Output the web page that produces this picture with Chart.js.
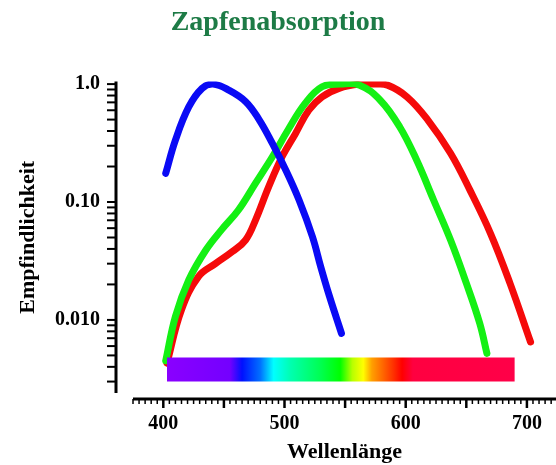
<!DOCTYPE html>
<html>
<head>
<meta charset="utf-8">
<title>Zapfenabsorption</title>
<script src="https://cdn.jsdelivr.net/npm/chart.js@4.4.0/dist/chart.umd.min.js"></script>
<style>
  html, body { margin: 0; padding: 0; background: #fff; }
  .chart-box { width: 556px; height: 465px; }
</style>
</head>
<body>
<div class="chart-box"><canvas id="cones"></canvas></div>
<script>
// Absorption der drei Zapfentypen (nm -> relative Empfindlichkeit)
const blueNm  = [402, 410, 421, 432, 441, 454, 468, 479, 490, 501, 512, 523, 530, 537, 547];
const blueVal = [0.175, 0.335, 0.64, 0.92, 1.0, 0.89, 0.71, 0.50, 0.314, 0.187, 0.104, 0.051, 0.028, 0.016, 0.0077];

const greenNm  = [402, 410, 421, 435, 448, 462, 476, 490, 503, 517, 531, 546, 562, 579, 595, 609, 623, 637, 650, 661, 667];
const greenVal = [0.0045, 0.0107, 0.0218, 0.039, 0.058, 0.0855, 0.144, 0.242, 0.41, 0.686, 0.95, 1.0, 0.98, 0.73, 0.435, 0.227, 0.104, 0.0476, 0.0205, 0.0094, 0.0052];

const redNm  = [403, 415, 429, 443, 457, 468, 476, 487, 498, 509, 520, 531, 545, 562, 574, 585, 601, 618, 637, 653, 670, 686, 703];
const redVal = [0.0043, 0.0122, 0.0233, 0.030, 0.038, 0.0478, 0.070, 0.135, 0.242, 0.38, 0.60, 0.78, 0.92, 1.0, 1.0, 0.98, 0.78, 0.50, 0.259, 0.126, 0.054, 0.0205, 0.0065];

// Farbbalken (Spektrum) unten
const spectrumNm = [403, 690];
const spectrumTop = [0.0048, 0.0048];
const spectrumBase = 0.003;
const spectrumStopsNm = [403, 455, 465, 480, 491, 505, 530, 546, 556, 565, 572, 590, 597, 606, 690];
const spectrumColors = ['#8a00ff', '#7400ff', '#0010ff', '#0070ff', '#00ffff', '#00ffb0', '#00ff50', '#00ff00',
                        '#b8ff00', '#ffff00', '#ffa000', '#ff3000', '#ff0000', '#ff0040', '#ff0048'];

// Achsen
const xTicks = [400, 500, 600, 700];
const xMinorStep = 5;
const xMajorStep = 50;
const yTickValues = [0.003, 0.004, 0.005, 0.006, 0.007, 0.008, 0.009,
                     0.01, 0.02, 0.03, 0.04, 0.05, 0.06, 0.07, 0.08, 0.09,
                     0.1, 0.2, 0.3, 0.4, 0.5, 0.6, 0.7, 0.8, 0.9, 1];
const yMajor = [0.01, 0.1, 1];
const yMajorLabels = ['0.010', '0.10', '1.0'];

const serif = "'Liberation Serif', 'Times New Roman', serif";

const toPoints = (xs, ys) => xs.map((x, i) => ({ x: x, y: ys[i] }));

function curve(label, xs, ys, color) {
  return {
    label: label,
    data: toPoints(xs, ys),
    borderColor: color,
    borderWidth: 7,
    borderCapStyle: 'round',
    borderJoinStyle: 'round',
    pointRadius: 0,
    tension: 0.4,
    fill: false
  };
}

// Prism-artige Achsen, abgesetzt vom Plotbereich
const axisPlugin = {
  id: 'prismAxes',
  afterDraw(chart) {
    const ctx = chart.ctx;
    const xs = chart.scales.x, ys = chart.scales.y;
    const area = chart.chartArea;
    const yLineX = area.left - 17;
    const xLineY = area.bottom + 6;
    ctx.save();
    ctx.strokeStyle = '#000';

    ctx.lineWidth = 3;
    ctx.beginPath();
    ctx.moveTo(yLineX, area.top);
    ctx.lineTo(yLineX, area.bottom);
    ctx.stroke();
    ctx.lineWidth = 2;
    ys.ticks.forEach(t => {
      const py = ys.getPixelForValue(t.value);
      ctx.beginPath();
      ctx.moveTo(yLineX - 9, py);
      ctx.lineTo(yLineX, py);
      ctx.stroke();
    });

    ctx.lineWidth = 3;
    ctx.beginPath();
    ctx.moveTo(area.left, xLineY);
    ctx.lineTo(area.right, xLineY);
    ctx.stroke();
    for (let v = Math.ceil(xs.min / xMinorStep) * xMinorStep; v <= xs.max; v += xMinorStep) {
      const px = xs.getPixelForValue(v);
      const major = v % xMajorStep === 0;
      ctx.lineWidth = major ? 2.5 : 1.5;
      ctx.beginPath();
      ctx.moveTo(px, xLineY);
      ctx.lineTo(px, xLineY + (major ? 9 : 5));
      ctx.stroke();
    }
    ctx.restore();
  }
};

const ctx = document.getElementById('cones').getContext('2d');

new Chart(ctx, {
  type: 'line',
  data: {
    datasets: [
      {
        label: 'Spektrum',
        data: toPoints(spectrumNm, spectrumTop),
        borderColor: 'transparent',
        borderWidth: 0,
        pointRadius: 0,
        tension: 0,
        fill: { value: spectrumBase },
        backgroundColor(context) {
          const chart = context.chart;
          const xs = chart.scales.x;
          if (!chart.chartArea || !xs) return 'transparent';
          const first = spectrumStopsNm[0];
          const last = spectrumStopsNm[spectrumStopsNm.length - 1];
          const g = chart.ctx.createLinearGradient(xs.getPixelForValue(first), 0, xs.getPixelForValue(last), 0);
          spectrumStopsNm.forEach((nm, i) => g.addColorStop((nm - first) / (last - first), spectrumColors[i]));
          return g;
        }
      },
      curve('S-Zapfen', blueNm, blueVal, '#0a0af5'),
      curve('M-Zapfen', greenNm, greenVal, '#14f014'),
      curve('L-Zapfen', redNm, redVal, '#f50a0a')
    ]
  },
  options: {
    responsive: true,
    maintainAspectRatio: false,
    animation: false,
    layout: { padding: 0 },
    plugins: {
      legend: { display: false },
      tooltip: { enabled: false },
      title: {
        display: true,
        text: 'Zapfenabsorption',
        color: '#1d7b46',
        font: { family: serif, size: 28, weight: 'bold', lineHeight: 1.2 },
        padding: { top: 6, bottom: 42 }
      }
    },
    scales: {
      x: {
        type: 'linear',
        min: 375,
        max: 724,
        afterBuildTicks: s => { s.ticks = xTicks.map(v => ({ value: v })); },
        afterFit: s => {
          s.height = 72;
          s.paddingLeft = 0;
          s.paddingRight = 0;
        },
        grid: { display: false, drawTicks: false },
        border: { display: false },
        ticks: {
          autoSkip: false,
          maxRotation: 0,
          padding: 19,
          color: '#000',
          font: { family: serif, size: 20, weight: 'bold' },
          callback: v => String(v)
        },
        title: {
          display: true,
          text: 'Wellenlänge',
          color: '#000',
          font: { family: serif, size: 22, weight: 'bold', lineHeight: 1 },
          padding: { top: 0, bottom: 2 }
        }
      },
      y: {
        type: 'logarithmic',
        min: 0.0024,
        max: 1.05,
        afterBuildTicks: s => { s.ticks = yTickValues.map(v => ({ value: v })); },
        afterFit: s => {
          s.width = 133;
          s.paddingTop = 0;
          s.paddingBottom = 0;
        },
        grid: { display: false, drawTicks: false },
        border: { display: false },
        ticks: {
          autoSkip: false,
          padding: 33,
          color: '#000',
          font: { family: serif, size: 20, weight: 'bold' },
          callback: v => {
            const i = yMajor.indexOf(v);
            return i >= 0 ? yMajorLabels[i] : '';
          }
        },
        title: {
          display: true,
          text: 'Empfindlichkeit',
          color: '#000',
          font: { family: serif, size: 22, weight: 'bold', lineHeight: 1 },
          padding: { top: 17, bottom: 0 }
        }
      }
    }
  },
  plugins: [axisPlugin]
});
</script>
</body>
</html>
